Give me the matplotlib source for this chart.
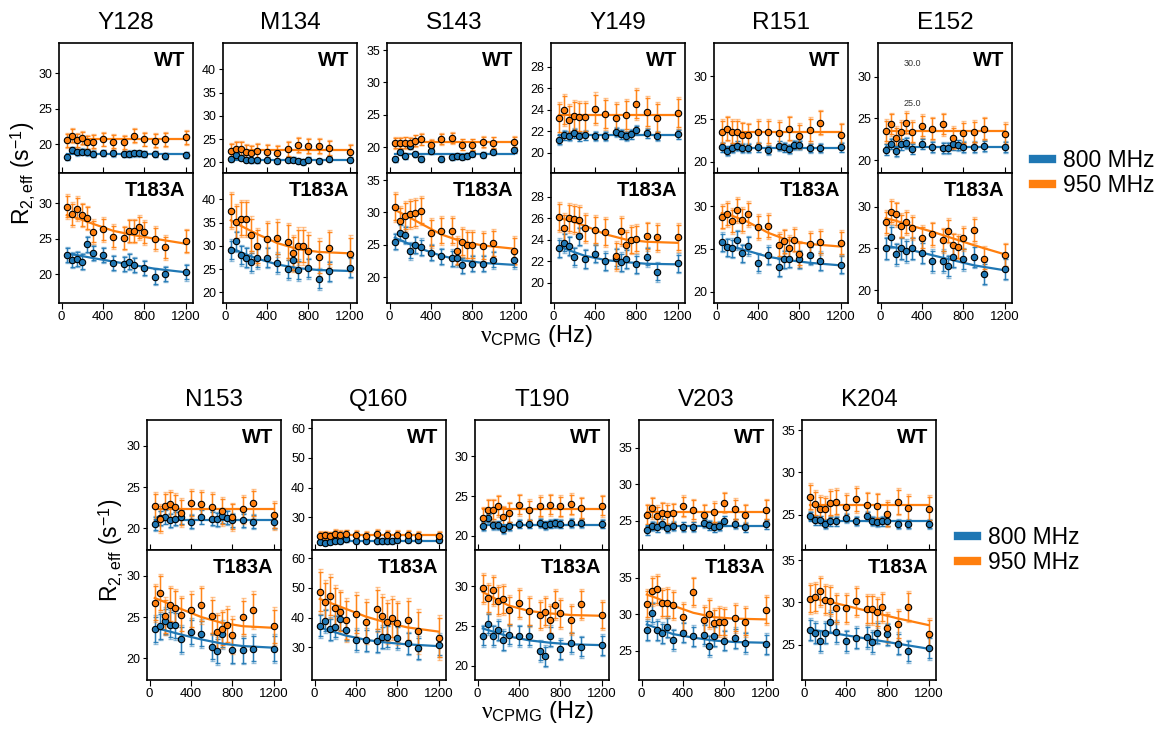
import numpy as np
import matplotlib
matplotlib.use("Agg")
import matplotlib.pyplot as plt
from matplotlib.lines import Line2D

plt.rcParams['font.family'] = ['Liberation Sans', 'DejaVu Sans']
plt.rcParams['mathtext.fontset'] = 'custom'
plt.rcParams['mathtext.rm'] = 'Liberation Sans'
plt.rcParams['mathtext.it'] = 'Liberation Serif'
plt.rcParams['mathtext.bf'] = 'Liberation Sans:bold'

nan = np.nan
residues = ["Y128", "M134", "S143", "Y149", "R151", "E152",
            "N153", "Q160", "T190", "V203", "K204"]
nu = [50, 100, 150, 200, 250, 300, 400, 500, 600, 650, 700, 750, 800, 900, 1000, 1200]
nu_fit = [50, 150, 300, 500, 700, 900, 1200]

wt_800 = [
    [18.25, 19.2, 18.9, 19.0, 18.9, 18.7, 18.8, 18.75, 18.65, 18.7, 18.75, 18.75, 18.65, 18.65, 18.4, 18.5],
    [20.7, 21.6, 21.0, 20.6, 20.4, 20.4, 20.6, 20.3, 20.6, 20.6, 20.3, 20.1, 20.6, 20.3, 20.7, 20.6],
    [18.1, 19.3, 18.6, 20.1, 18.9, 18.2, 19.4, 18.2, 18.4, 18.6, 18.5, 18.7, 19.0, 18.8, 19.3, 19.5],
    [21.2, 21.6, 21.55, 21.8, 21.5, 21.6, 21.55, 21.55, 21.9, 21.7, 21.55, 21.7, 22.1, 21.8, 21.55, 21.7],
    [21.7, 21.3, 21.6, 21.9, 21.6, 21.6, 21.7, 21.4, 21.9, 21.7, 21.5, 22.0, 22.0, 21.6, 21.6, 21.7],
    [21.3, 22.0, 21.1, 21.9, 22.1, 21.4, 22.0, 21.6, 21.5, 21.5, 21.9, 21.8, 21.6, 21.6, 21.7, 21.6],
    [20.6, 21.25, 21.4, 21.0, 21.2, 21.4, 20.8, 21.4, 21.2, 21.1, 21.5, 21.3, 21.0, 21.0, 20.8, 20.8],
    [21.8, 21.5, 21.8, 22.2, 22.0, 22.6, 22.1, 22.2, 22.0, 22.0, 22.0, 22.0, 22.4, 22.4, 22.4, 22.4],
    [21.2, 22.2, 21.3, 21.3, 20.8, 21.2, 21.5, 21.5, 21.6, 21.3, 21.5, 21.55, 21.5, 21.6, 21.55, 21.5],
    [23.7, 24.3, 24.1, 24.6, 24.0, 24.3, 24.2, 24.2, 24.7, 24.4, 24.1, 24.3, 25.0, 24.6, 24.1, 24.5],
    [24.8, 24.3, 24.3, 23.9, 24.2, 24.2, 24.6, 24.25, 24.85, 24.25, 24.1, 24.2, 24.2, 23.85, 23.85, 23.9],
]
wt_950 = [
    [20.6, 21.25, 20.6, 20.9, 20.3, 20.4, 20.75, 20.4, 20.3, nan, 21.25, nan, 20.75, 20.5, 20.7, 21.0],
    [22.4, 22.9, 22.9, 22.2, 22.0, 22.4, 22.2, 22.0, 22.9, nan, 23.7, nan, 23.5, 23.5, 23.0, 22.2],
    [20.6, 20.6, 20.7, 20.6, 21.0, 21.2, 20.3, 21.3, 21.4, nan, 20.4, nan, 20.4, 20.8, 20.7, 20.8],
    [23.2, 24.0, 23.0, 23.4, 23.3, 23.3, 24.1, 23.6, 23.2, nan, 23.5, nan, 24.5, 23.8, 23.2, 23.7],
    [23.5, 23.9, 23.5, 23.5, 23.2, 23.1, 23.5, 23.5, 23.4, nan, 23.9, nan, 23.0, 23.7, 24.6, 23.1],
    [23.5, 24.3, 22.7, 23.4, 24.5, 23.4, 24.1, 23.8, 24.3, nan, 22.7, nan, 23.3, 23.4, 23.8, 23.2],
    [22.7, 21.2, 22.7, 22.9, 22.6, 21.9, 23.05, 22.9, 22.65, nan, 22.05, nan, 21.4, 22.3, 23.05, 21.6],
    [23.8, 23.9, 23.7, 24.5, 24.1, 24.3, 24.1, 23.8, 24.5, nan, 24.2, nan, 24.2, 24.1, 23.8, 23.8],
    [22.3, 23.3, 23.3, 23.8, 22.4, 22.9, 23.9, 23.2, 23.7, nan, 23.9, nan, 23.7, 24.0, 23.5, 23.8],
    [25.8, 26.8, 25.6, 26.1, 25.9, 26.0, 27.0, 26.5, 25.8, nan, 26.2, nan, 27.5, 26.6, 25.8, 26.5],
    [27.1, 26.3, 25.7, 25.6, 26.4, 26.5, 25.9, 26.8, 26.1, nan, 26.0, nan, 25.1, 26.5, 25.8, 25.7],
]
mut_800 = [
    [22.7, 22.0, 22.2, 21.8, 24.2, 23.0, 22.7, 21.6, 21.5, 21.8, 21.3, nan, 20.9, 19.7, 20.1, 20.3],
    [29.1, 31.0, 28.0, 27.5, 26.5, 27.4, 27.5, 26.3, 25.0, 26.9, 24.8, nan, 25.2, 22.9, 24.5, 25.3],
    [25.5, 26.9, 26.5, 24.1, 25.0, 24.6, 23.8, 23.2, 22.9, 23.0, 21.8, nan, 22.1, 22.1, 22.7, 22.7],
    [23.2, 23.7, 23.4, 22.4, 24.3, 22.2, 22.7, 22.0, 22.3, 21.9, 22.2, nan, 21.7, 22.4, 21.0, 21.8],
    [25.8, 25.2, 25.1, 26.1, 24.5, 25.4, 23.4, 24.3, 22.9, 23.8, 23.9, nan, 23.8, 24.3, 23.6, 23.2],
    [25.0, 26.4, 24.3, 25.0, 24.7, 25.0, 24.5, 23.5, 23.5, 22.9, 24.0, nan, 23.7, 24.0, 22.0, 22.6],
    [23.5, 23.9, 24.5, 24.1, 24.0, 22.3, 23.2, 23.0, 21.4, 20.9, 22.9, nan, 21.0, 21.0, 21.2, 21.2],
    [37.3, 39.0, 36.1, 37.0, 39.4, 36.0, 32.5, 32.4, 32.0, 33.4, 33.6, nan, 33.3, 31.3, 29.7, 30.8],
    [23.8, 25.3, 23.8, 24.5, 23.2, 23.9, 23.8, 23.8, 21.9, 21.2, 23.7, nan, 22.1, 22.9, 22.4, 22.6],
    [27.8, 30.2, 27.8, 27.4, 28.2, 26.5, 27.5, 27.0, 27.2, 25.7, 27.0, nan, 26.4, 26.7, 26.1, 25.9],
    [26.75, 26.4, 25.4, 26.4, 27.7, 26.5, 25.4, 25.8, 25.9, 25.3, 26.4, nan, 26.2, 25.1, 24.2, 24.6],
]
mut_950 = [
    [29.5, 28.4, 29.2, 28.3, 27.9, 26.0, 26.3, 25.3, 25.1, 26.1, 26.1, 26.6, 25.9, 25.0, 23.8, 24.7],
    [37.6, 35.1, 35.9, 35.9, 32.4, 29.9, 31.4, 31.7, 30.9, 28.4, 30.0, 30.0, 28.9, 27.6, 29.5, 28.3],
    [30.9, 28.7, 29.5, 29.8, 29.9, 30.3, 26.8, 27.2, 27.2, 24.1, 25.4, 25.0, 25.0, 24.8, 25.2, 24.1],
    [26.1, 25.1, 26.0, 25.9, 25.8, 25.1, 24.9, 24.7, 22.5, 24.8, 23.5, 24.0, 24.1, 24.3, 24.2, 24.2],
    [28.8, 29.1, 28.3, 29.6, 28.4, 29.1, 27.6, 27.7, 25.5, 25.9, 25.1, 26.1, 24.4, 25.6, 25.8, 25.7],
    [28.1, 29.4, 29.1, 27.7, 28.1, 27.5, 26.3, 26.7, 26.0, 27.1, 25.4, 25.2, 26.2, 27.2, 23.8, 24.2],
    [26.7, 27.9, 25.1, 26.5, 26.1, 25.3, 25.8, 26.5, 25.1, 23.2, 23.6, 24.0, 22.8, 25.0, 25.8, 23.9],
    [48.8, 45.2, 47.3, 43.4, 42.0, 39.2, 41.3, 38.7, 42.8, 40.6, 38.5, 39.9, 38.3, 39.1, 35.4, 33.3],
    [29.8, 28.5, 29.5, 28.2, 28.4, 27.0, 27.9, 26.9, 26.4, 26.8, 25.8, 27.7, 26.6, 25.8, 27.75, 26.4],
    [31.45, 33.2, 33.4, 31.5, 31.6, 31.3, 29.6, 33.1, 29.2, 30.1, 28.8, 29.0, 28.9, 29.5, 29.0, 30.6],
    [30.4, 30.6, 31.3, 30.3, 30.2, 29.3, 29.3, 30.1, 29.2, 29.2, 28.8, 29.4, 27.0, 27.4, 29.5, 26.3],
]

# fitted curves
fit_wt_800 = [18.7, 20.5, 18.9, 21.65, 21.65, 21.6, 21.05, 22.2, 21.4, 24.35, 24.2]
fit_wt_950 = [20.7, 22.7, 20.8, 23.5, 23.5, 23.55, 22.3, 24.0, 23.4, 26.2, 26.15]
fit_mut_800 = [
    [22.9, 22.7, 22.3, 21.8, 21.3, 20.8, 20.3],
    [29.6, 28.6, 27.3, 26.0, 25.2, 24.8, 24.6],
    [26.1, 25.4, 24.4, 23.3, 22.6, 22.2, 21.9],
    [23.4, 23.0, 22.5, 22.1, 21.9, 21.75, 21.7],
    [25.7, 25.3, 24.8, 24.1, 23.7, 23.4, 23.1],
    [25.3, 25.1, 24.8, 24.2, 23.6, 23.0, 22.4],
    [23.7, 23.4, 22.9, 22.3, 21.8, 21.5, 21.3],
    [36.7, 35.6, 34.0, 32.5, 31.6, 31.0, 30.4],
    [24.7, 24.3, 23.7, 23.2, 22.9, 22.7, 22.6],
    [28.6, 28.1, 27.3, 26.8, 26.4, 26.2, 26.1],
    [26.8, 26.6, 26.3, 25.9, 25.5, 25.1, 24.5],
]
fit_mut_950 = [
    [28.3, 27.9, 27.1, 26.1, 25.5, 25.0, 24.3],
    [35.5, 34.3, 32.6, 30.6, 29.3, 28.7, 28.4],
    [30.4, 29.6, 28.3, 26.6, 25.5, 24.9, 24.4],
    [26.0, 25.8, 25.3, 24.5, 24.0, 23.8, 23.7],
    [29.2, 28.9, 28.2, 26.9, 26.0, 25.6, 25.3],
    [28.6, 28.3, 27.7, 27.0, 26.2, 25.4, 24.3],
    [27.3, 26.8, 26.0, 25.0, 24.3, 23.9, 23.7],
    [46.3, 45.0, 43.0, 40.3, 38.3, 36.7, 35.3],
    [29.3, 28.6, 27.6, 26.9, 26.6, 26.4, 26.3],
    [32.7, 32.2, 31.2, 30.2, 29.6, 29.4, 29.3],
    [30.6, 30.3, 29.9, 29.3, 28.7, 28.1, 27.3],
]

# error bars: WT 800, WT 950, T183A 800, T183A 950
err_wt_800 = [0.4, 0.5, 0.4, 0.4, 0.5, 0.6, 0.8, 0.8, 0.5, 0.6, 0.5]
err_wt_950 = [0.9, 1.5, 0.8, 1.3, 1.3, 1.2, 1.5, 1.3, 1.2, 1.3, 1.4]
err_mut_800 = [1.0, 2.0, 1.2, 0.8, 1.0, 1.2, 1.5, 3.5, 1.2, 1.3, 1.2]
err_mut_950 = [1.5, 3.5, 2.0, 1.2, 1.3, 1.3, 2.0, 6.5, 1.7, 1.8, 1.6]

ylims = [(16, 34.2), (17.7, 45.7), (16, 36.1), (18.1, 30.2), (18.7, 33.9), (18.5, 34.0),
         (17.4, 33.1), (19, 62.8), (18.2, 34.6), (21, 38.8), (20.8, 36.2)]
yticks = [[20, 25, 30], [20, 25, 30, 35, 40], [20, 25, 30, 35], [20, 22, 24, 26, 28],
          [20, 25, 30], [20, 25, 30], [20, 25, 30], [30, 40, 50, 60], [20, 25, 30],
          [25, 30, 35], [25, 30, 35]]
xticks = [0, 400, 800, 1200]

C800 = '#1f77b4'
C950 = '#ff7f0e'

W, H = 1164, 730
fig = plt.figure(figsize=(W / 100, H / 100), dpi=100)

def ax_px(x0, y0, w, h):
    return fig.add_axes([x0 / W, 1 - (y0 + h) / H, w / W, h / H])

top_x = [59, 223, 387, 551, 714, 878]
bot_x = [147, 312, 475, 639, 802]
pw = 134
rows = [(top_x, 43, 130), (bot_x, 420, 130)]

positions = []
for xs, ytop, ph in rows:
    for x0 in xs:
        positions.append((x0, ytop, ph))

def draw_series(ax, y, err, fitx, fity, color):
    ax.plot(fitx, fity, color=color, lw=1.6, zorder=2)
    ax.errorbar(nu, y, yerr=np.array(err) * 1.15, fmt='none', ecolor=color, alpha=0.45,
                elinewidth=1.0, capsize=1.8, capthick=1.0, zorder=1)
    ax.errorbar(nu, y, yerr=err, fmt='none', ecolor=color, alpha=0.9,
                elinewidth=1.0, capsize=1.8, capthick=1.0, zorder=1)
    ax.plot(nu, y, 'o', ms=4.6, mfc=color, mec='black', mew=0.8, ls='none', zorder=3)

def style(ax, i, is_top):
    ax.set_xlim(-25, 1270)
    ax.set_ylim(*ylims[i])
    ax.set_xticks(xticks)
    ax.set_yticks(yticks[i])
    for s in ax.spines.values():
        s.set_linewidth(1.2)
    ax.tick_params(axis='y', direction='out', length=3, width=0.8, labelsize=9, pad=2)
    if is_top:
        ax.tick_params(axis='x', direction='in', length=4, width=0.8, labelbottom=False)
    else:
        ax.tick_params(axis='x', direction='out', length=4, width=0.8, labelsize=9.5, pad=1.5)

for i, res in enumerate(residues):
    x0, ytop, ph = positions[i]
    ax1 = ax_px(x0, ytop, pw, ph)
    ax2 = ax_px(x0, ytop + ph, pw, ph)
    draw_series(ax1, wt_800[i], err_wt_800[i], [50, 1200], [fit_wt_800[i]] * 2, C800)
    draw_series(ax1, wt_950[i], err_wt_950[i], [50, 1200], [fit_wt_950[i]] * 2, C950)
    draw_series(ax2, mut_800[i], err_mut_800[i], nu_fit, fit_mut_800[i], C800)
    draw_series(ax2, mut_950[i], err_mut_950[i], nu_fit, fit_mut_950[i], C950)
    style(ax1, i, True)
    style(ax2, i, False)
    ax1.text(0.94, 0.94, 'WT', transform=ax1.transAxes, ha='right', va='top',
             fontsize=14.5, fontweight='bold')
    ax2.text(0.94, 0.94, 'T183A', transform=ax2.transAxes, ha='right', va='top',
             fontsize=14.5, fontweight='bold')
    fig.text((x0 + pw / 2) / W, 1 - (ytop - 20) / H, res, ha='center', va='center',
             fontsize=17.5)

# stray labels in the E152 WT panel
fig.text(912 / W, 1 - 63 / H, '30.0', ha='center', va='center', fontsize=6.5, color='#333333')
fig.text(912 / W, 1 - 104 / H, '25.0', ha='center', va='center', fontsize=6.5, color='#333333')

ylab = r'R$_{2,\mathrm{eff}}$ (s$^{-1}$)'
xlab = r'$\nu_{\mathrm{CPMG}}$ (Hz)'
fig.text(24 / W, 1 - 173 / H, ylab, rotation=90, ha='center', va='center', fontsize=16.5)
fig.text(112 / W, 1 - 550 / H, ylab, rotation=90, ha='center', va='center', fontsize=16.5)
fig.text(536 / W, 1 - 336 / H, xlab, ha='center', va='center', fontsize=17)
fig.text(537 / W, 1 - 712 / H, xlab, ha='center', va='center', fontsize=17)

handles = [Line2D([], [], color=C800, lw=6), Line2D([], [], color=C950, lw=6)]
labels = ['800 MHz', '950 MHz']
for (lx, ly) in [(1033, 173), (958, 550)]:
    fig.legend(handles, labels, loc='center left', bbox_to_anchor=(lx / W, 1 - ly / H),
               frameon=False, fontsize=16.5, handlelength=0.85, handletextpad=0.45,
               labelspacing=0.12, borderaxespad=0, borderpad=0)

fig.savefig('out.png', dpi=100)
